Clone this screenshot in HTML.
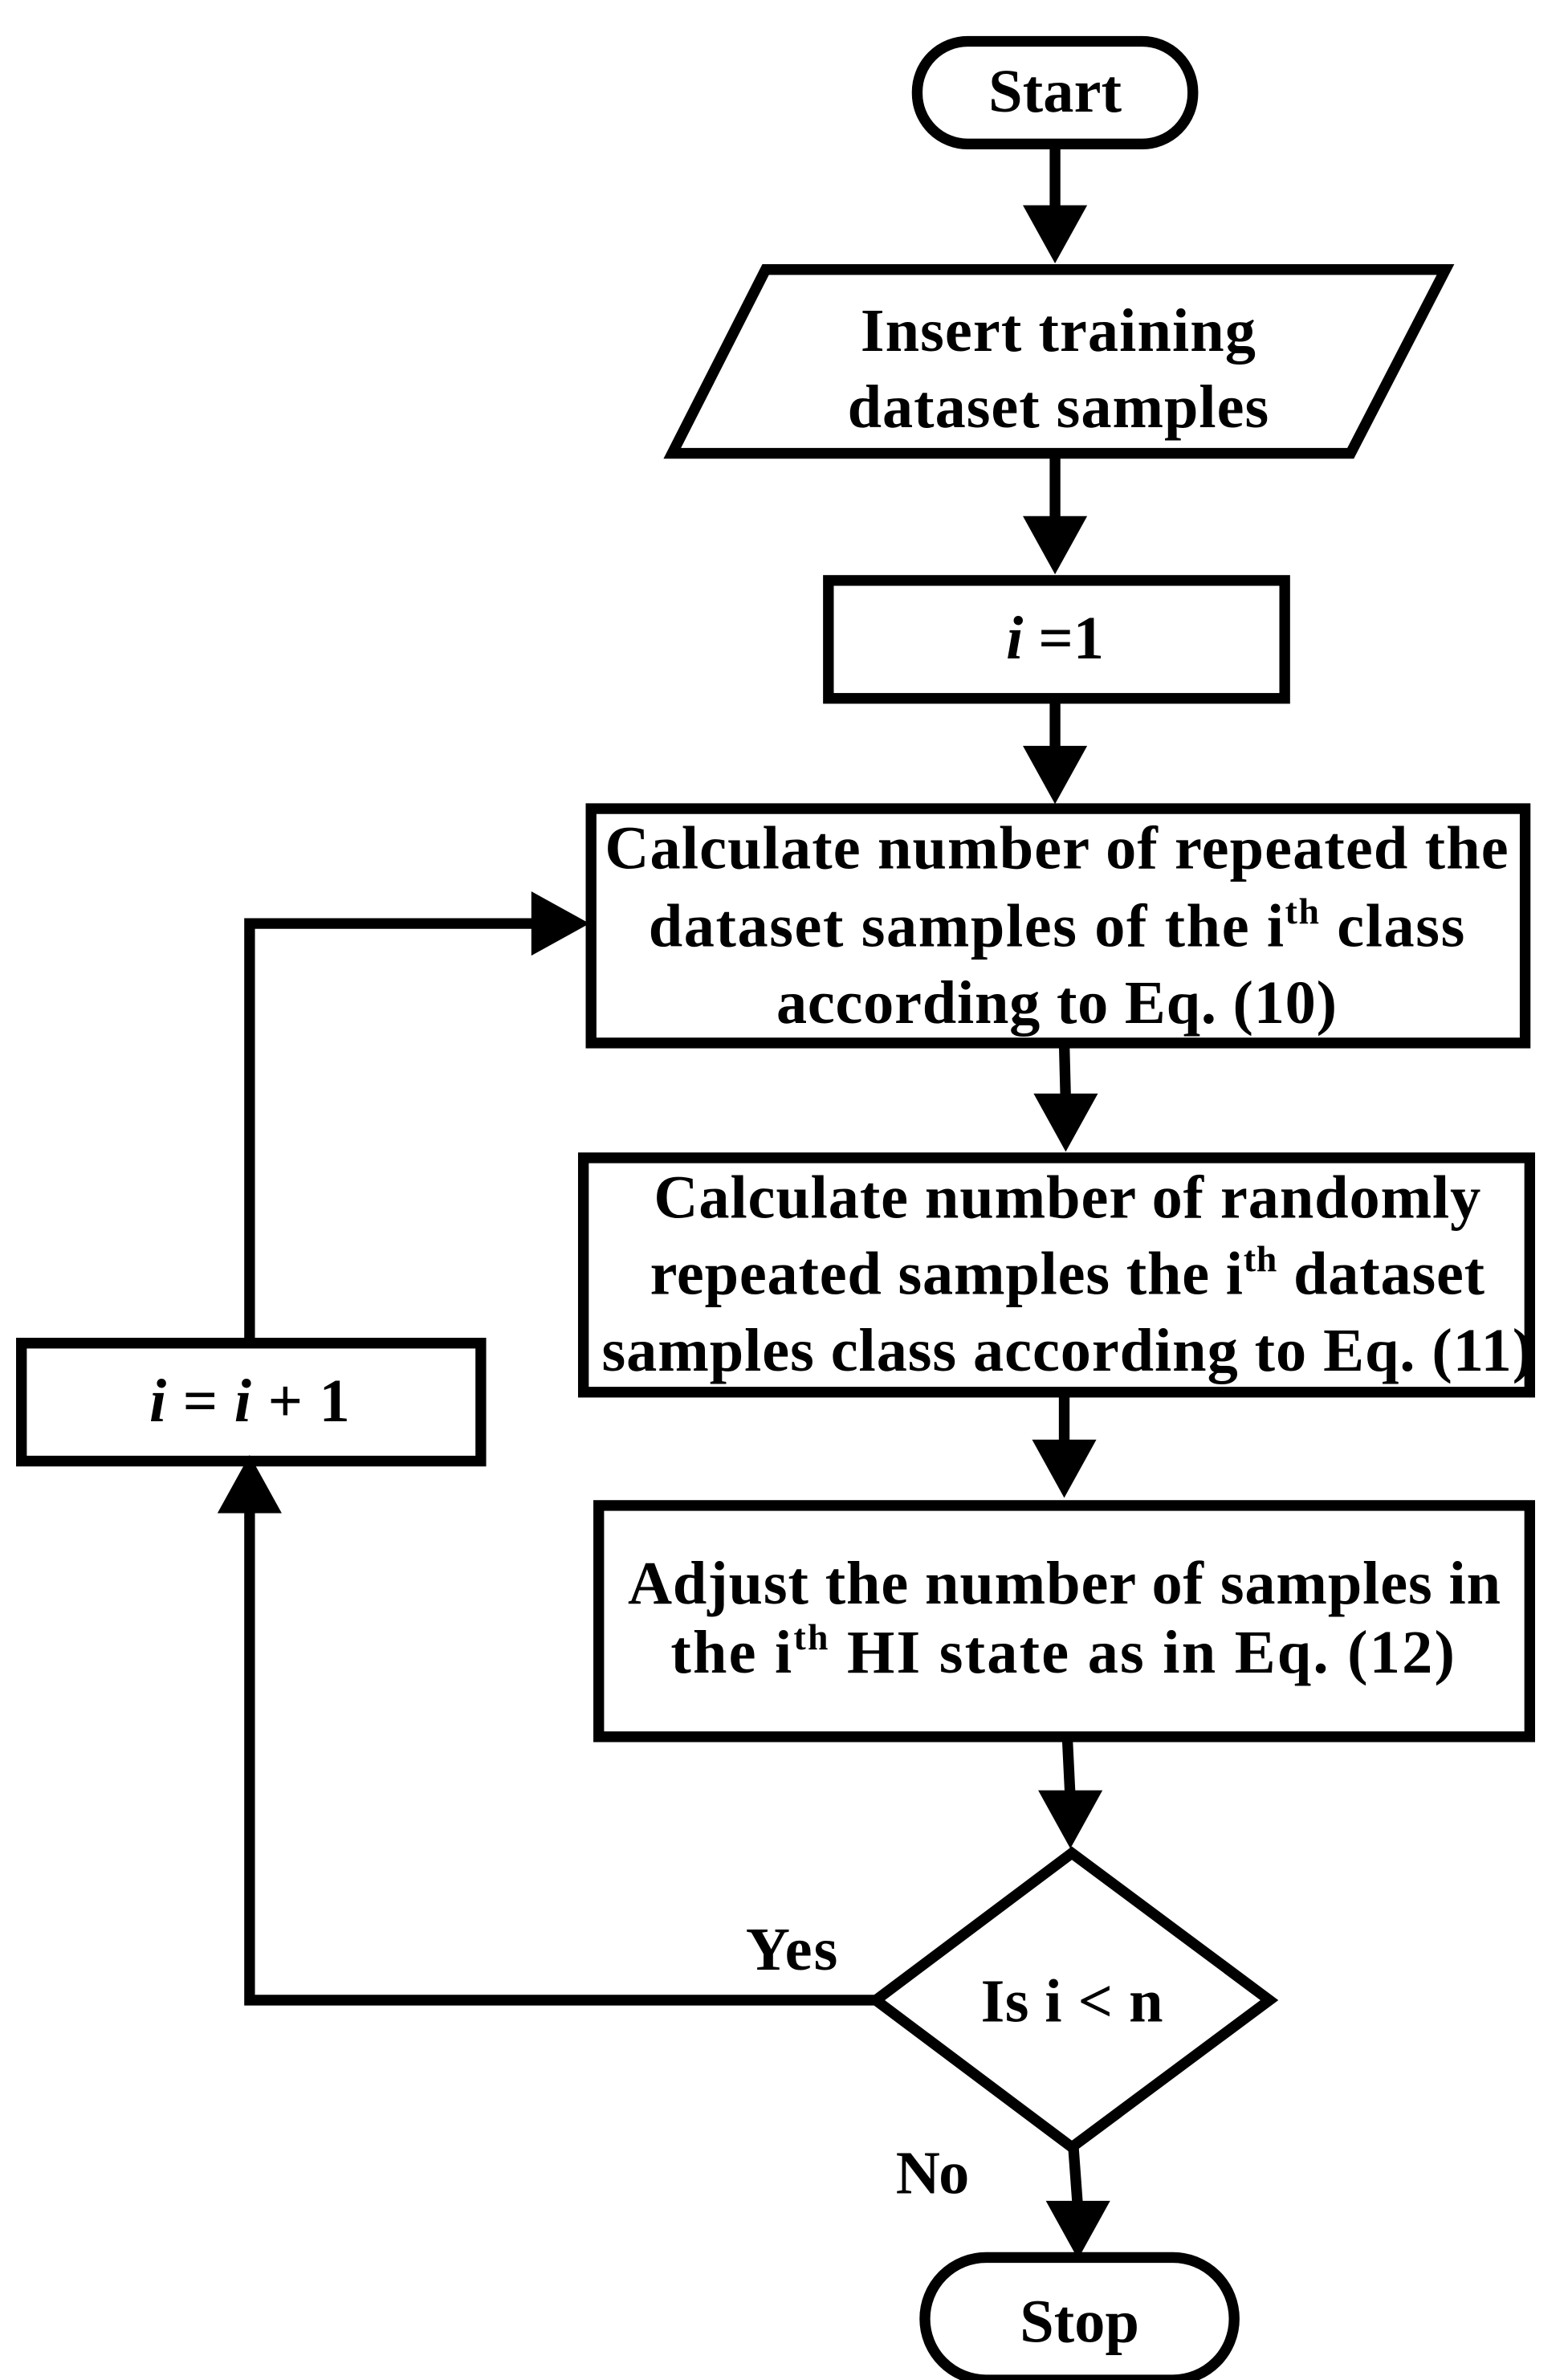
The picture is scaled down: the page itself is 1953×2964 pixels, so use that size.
<!DOCTYPE html>
<html><head><meta charset="utf-8"><style>
html,body{margin:0;padding:0;background:#fff;}
svg{display:block;}
text{font-family:"Liberation Serif",serif;font-weight:bold;fill:#000;}
</style></head><body>
<svg width="1953" height="2964" viewBox="0 0 1024 1554" preserveAspectRatio="none" xmlns="http://www.w3.org/2000/svg">
<g fill="none" stroke="#000" stroke-width="7" stroke-linejoin="miter">
<rect x="599" y="27" width="180" height="67" rx="33"/>
<polygon points="500,176 944,176 882,296 439,296"/>
<rect x="541" y="379" width="298" height="77"/>
<rect x="386" y="528" width="610" height="153"/>
<rect x="381" y="756" width="618" height="153"/>
<rect x="391" y="983" width="608" height="151"/>
<polygon points="572,1306 700,1210 829,1306 700,1402"/>
<rect x="14" y="877" width="300" height="77"/>
<rect x="604" y="1474" width="202" height="80" rx="40"/>
</g>
<g fill="none" stroke="#000" stroke-width="7">
<line x1="689" y1="94" x2="689" y2="140"/>
<line x1="689" y1="296" x2="689" y2="343"/>
<line x1="689" y1="456" x2="689" y2="493"/>
<line x1="695" y1="681" x2="696" y2="720"/>
<line x1="695" y1="909" x2="695" y2="946"/>
<line x1="697" y1="1134" x2="699" y2="1175"/>
<line x1="701" y1="1402" x2="704" y2="1443"/>
<polyline points="572,1306 163,1306 163,982"/>
<polyline points="163,877 163,603 352,603"/>
</g>
<g fill="#000">
<polygon points="668,134 710,134 689,172"/>
<polygon points="668,337 710,337 689,375"/>
<polygon points="668,487 710,487 689,525"/>
<polygon points="675,714 717,714 696,752"/>
<polygon points="674,940 716,940 695,978"/>
<polygon points="678,1169 720,1169 699,1207"/>
<polygon points="683,1437 725,1437 704,1475"/>
<polygon points="142,988 184,988 163,950"/>
<polygon points="347,582 347,624 385,603"/>
</g>
<g font-size="40" text-anchor="middle" lengthAdjust="spacingAndGlyphs">
<text x="689" y="73" textLength="87">Start</text>
<text x="691" y="229" textLength="258">Insert training</text>
<text x="691" y="279" textLength="275">dataset samples</text>
<text x="689" y="430"><tspan font-style="italic">i</tspan> =1</text>
<text x="690" y="567" textLength="590">Calculate number of repeated the</text>
<text x="690" y="618" textLength="533">dataset samples of the  i<tspan font-size="24" dy="-15">th</tspan><tspan dy="15"> class</tspan></text>
<text x="690" y="668" textLength="366">according to Eq. (10)</text>
<text x="697" y="795" textLength="540">Calculate number of randomly</text>
<text x="697" y="845" textLength="545">repeated samples the i<tspan font-size="24" dy="-15">th</tspan><tspan dy="15"> dataset</tspan></text>
<text x="697" y="895" textLength="608">samples class according to Eq. (11)</text>
<text x="695" y="1047" textLength="570">Adjust the number of samples in</text>
<text x="694" y="1092" textLength="512">the  i<tspan font-size="24" dy="-15">th</tspan><tspan dy="15"> HI state  as in Eq. (12)</tspan></text>
<text x="700" y="1320" textLength="119">Is i &lt; n</text>
<text x="163" y="928" textLength="131"><tspan font-style="italic">i</tspan> = <tspan font-style="italic">i</tspan> + 1</text>
<text x="517" y="1286" textLength="60">Yes</text>
<text x="609" y="1432" textLength="48">No</text>
<text x="705" y="1529" textLength="78">Stop</text>
</g>
</svg>
</body></html>
